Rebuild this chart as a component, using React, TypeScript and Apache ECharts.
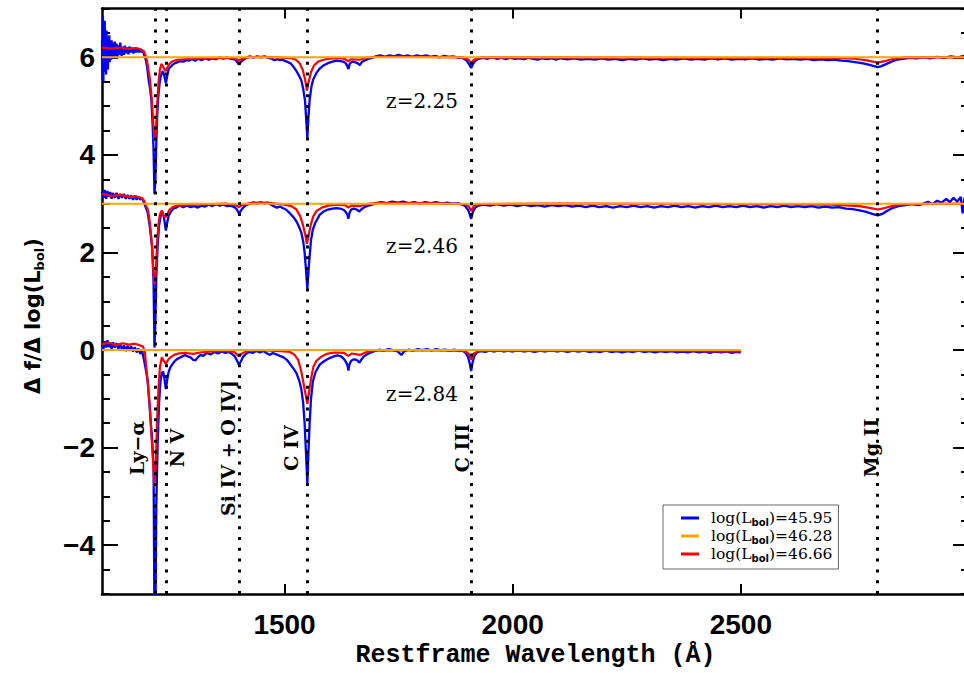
import React, { useEffect, useRef } from "react";
import * as echarts from "echarts";

// ---------------- data ----------------
const GROUP_LABELS = ["z=2.25", "z=2.46", "z=2.84"];
const GROUP_OFFSETS = [6, 3, 0];
const LUMINOSITIES = ["45.95", "46.28", "46.66"];
const SERIES_COLORS = ["#0000ff", "#ffa500", "#ff0000"];
// wavelength span of the reference (flat) curve per redshift group
const REF_RANGE: [number, number][] = [[1100, 3000], [1100, 3000], [1100, 2500]];
const LINE_WAVES = [1216, 1240, 1400, 1549, 1909, 2800];
const LINE_NAMES = ["Ly−α", "N V", "Si IV + O IV]", "C IV", "C III", "Mg II"];
const X_TICKS = [1500, 2000, 2500];
const Y_TICKS = [-4, -2, 0, 2, 4, 6];

// Δf/Δlog(Lbol) for log(Lbol)=45.95 (blue), relative to each group's offset
const BLUE_Z225: [number, number][] = [
  [1100,0.35],[1101,-0.45],[1102,0.85],[1103,-0.5],[1104,0.5],[1105,-0.3],[1106,0.75],[1107,-0.2],[1108,0.45],[1109,-0.35],
  [1110,0.55],[1111,-0.1],[1112,0.4],[1113,-0.25],[1114,0.35],[1115,0.0],[1116,0.45],[1117,-0.1],[1118,0.3],[1120,-0.05],
  [1121,0.35],[1123,0.0],[1124,0.3],[1126,-0.02],[1128,0.32],[1130,0.02],[1132,0.28],[1134,0.0],[1136,0.25],[1138,0.05],
  [1140,0.3],[1143,0.03],[1145,0.22],[1148,0.05],[1150,0.24],[1153,0.08],[1155,0.2],[1158,0.06],[1160,0.22],[1163,0.1],
  [1166,0.2],[1169,0.08],[1172,0.2],[1175,0.1],[1178,0.18],[1181,0.1],[1184,0.17],[1187,0.1],[1190,0.14],[1193,0.02],
  [1196,-0.05],[1199,-0.2],[1202,-0.45],[1205,-0.62],[1208,-0.85],[1211,-1.4],[1213,-1.9],[1215,-2.8],[1217,-2.5],[1219,-1.76],
  [1221,-1.2],[1223,-0.85],[1226,-0.55],[1229,-0.38],[1232,-0.3],[1234,-0.29],[1237,-0.4],[1240,-0.53],[1243,-0.38],[1246,-0.24],
  [1250,-0.2],[1255,-0.15],[1260,-0.12],[1266,-0.1],[1272,-0.08],[1278,-0.09],[1284,-0.06],[1290,-0.07],[1297,-0.04],[1304,-0.07],
  [1311,-0.03],[1318,-0.06],[1326,-0.02],[1334,-0.05],[1342,-0.02],[1350,-0.04],[1358,0.0],[1366,-0.03],[1374,0.0],[1382,-0.03],
  [1390,-0.04],[1395,-0.08],[1400,-0.15],[1404,-0.1],[1410,-0.05],[1417,-0.01],[1424,0.02],[1432,-0.01],[1440,0.02],[1448,0.0],
  [1456,0.02],[1464,-0.01],[1472,-0.03],[1478,-0.06],[1484,-0.04],[1490,-0.06],[1496,-0.05],[1502,-0.08],[1508,-0.1],[1514,-0.13],
  [1520,-0.2],[1526,-0.28],[1532,-0.38],[1537,-0.48],[1541,-0.65],[1545,-0.9],[1548,-1.35],[1550,-1.66],[1552,-1.3],[1555,-0.87],
  [1559,-0.6],[1563,-0.45],[1570,-0.32],[1577,-0.23],[1585,-0.17],[1595,-0.12],[1605,-0.09],[1614,-0.07],[1622,-0.08],[1629,-0.09],
  [1634,-0.12],[1637,-0.17],[1640,-0.24],[1643,-0.13],[1648,-0.09],[1654,-0.1],[1660,-0.12],[1665,-0.16],[1670,-0.09],[1677,-0.06],
  [1685,-0.03],[1693,-0.01],[1700,0.02],[1710,0.04],[1720,0.01],[1730,0.04],[1740,0.02],[1750,0.05],[1760,0.02],[1770,0.04],
  [1780,0.01],[1790,0.04],[1800,0.02],[1810,0.04],[1820,0.01],[1830,0.03],[1840,0.0],[1850,0.03],[1860,0.01],[1870,0.02],
  [1880,-0.01],[1888,0.0],[1895,-0.04],[1900,-0.08],[1905,-0.15],[1909,-0.22],[1913,-0.14],[1918,-0.07],[1925,-0.03],[1935,-0.01],
  [1945,-0.03],[1955,0.0],[1965,-0.03],[1975,-0.01],[1985,-0.04],[1995,-0.01],[2005,-0.03],[2015,-0.02],[2025,-0.04],[2035,-0.01],
  [2045,-0.03],[2055,-0.05],[2065,-0.02],[2075,-0.04],[2085,-0.02],[2095,-0.05],[2105,-0.02],[2120,-0.04],[2135,-0.02],[2150,-0.05],
  [2165,-0.03],[2180,-0.05],[2195,-0.02],[2210,-0.05],[2225,-0.03],[2240,-0.06],[2255,-0.03],[2270,-0.05],[2285,-0.02],[2300,-0.05],
  [2315,-0.03],[2330,-0.06],[2345,-0.03],[2360,-0.05],[2375,-0.02],[2390,-0.05],[2405,-0.03],[2420,-0.05],[2435,-0.02],[2450,-0.04],
  [2465,-0.02],[2480,-0.05],[2495,-0.03],[2510,-0.04],[2525,-0.02],[2540,-0.05],[2555,-0.03],[2570,-0.05],[2585,-0.02],[2600,-0.04],
  [2615,-0.03],[2630,-0.05],[2645,-0.03],[2660,-0.06],[2675,-0.04],[2690,-0.06],[2705,-0.05],[2720,-0.07],[2735,-0.08],[2750,-0.1],
  [2765,-0.12],[2780,-0.15],[2792,-0.18],[2800,-0.2],[2808,-0.18],[2818,-0.14],[2830,-0.09],[2842,-0.05],[2855,-0.03],[2870,-0.01],
  [2885,-0.02],[2900,0.0],[2915,-0.02],[2930,0.01],[2945,-0.01],[2960,0.02],[2975,0.0],[2990,0.03],[3000,0.0],
];

const BLUE_Z246: [number, number][] = [
  [1100,0.25],[1103,0.12],[1106,0.28],[1109,0.1],[1112,0.26],[1115,0.14],[1118,0.24],[1121,0.1],[1124,0.22],[1128,0.12],
  [1132,0.22],[1136,0.1],[1140,0.2],[1144,0.12],[1148,0.2],[1152,0.1],[1156,0.18],[1160,0.1],[1164,0.17],[1168,0.08],
  [1172,0.16],[1176,0.08],[1180,0.14],[1184,0.08],[1188,0.12],[1192,0.02],[1196,-0.08],[1200,-0.18],[1204,-0.42],[1207,-0.65],
  [1210,-0.9],[1213,-1.6],[1215,-2.95],[1217,-2.4],[1219,-1.5],[1222,-0.85],[1225,-0.45],[1229,-0.24],[1233,-0.17],[1236,-0.3],
  [1240,-0.55],[1243,-0.38],[1246,-0.25],[1250,-0.18],[1256,-0.1],[1263,-0.08],[1270,-0.04],[1278,-0.07],[1286,-0.04],[1294,-0.07],
  [1302,-0.05],[1310,-0.08],[1318,-0.04],[1326,-0.06],[1334,-0.02],[1342,-0.05],[1350,-0.01],[1358,-0.04],[1366,-0.02],[1374,-0.05],
  [1382,-0.04],[1390,-0.07],[1395,-0.11],[1400,-0.2],[1404,-0.15],[1409,-0.08],[1416,-0.03],[1424,0.0],[1432,0.03],[1440,0.0],
  [1448,0.03],[1456,0.0],[1464,0.02],[1472,-0.03],[1478,-0.06],[1483,-0.08],[1490,-0.06],[1496,-0.09],[1503,-0.12],[1511,-0.19],
  [1519,-0.27],[1526,-0.36],[1532,-0.48],[1537,-0.6],[1541,-0.78],[1544,-1.0],[1547,-1.35],[1550,-1.75],[1552,-1.45],[1555,-1.08],
  [1558,-0.75],[1562,-0.53],[1568,-0.38],[1577,-0.23],[1586,-0.16],[1595,-0.12],[1605,-0.1],[1614,-0.09],[1622,-0.1],[1630,-0.13],
  [1635,-0.18],[1638,-0.24],[1640,-0.31],[1642,-0.2],[1646,-0.12],[1652,-0.1],[1658,-0.12],[1664,-0.16],[1668,-0.12],[1675,-0.07],
  [1683,-0.04],[1692,-0.02],[1700,0.01],[1712,0.03],[1724,0.01],[1736,0.04],[1748,0.02],[1760,0.04],[1772,0.01],[1784,0.03],
  [1796,0.0],[1808,0.03],[1820,0.01],[1832,0.03],[1844,0.0],[1856,0.02],[1868,0.0],[1880,0.01],[1890,-0.02],[1897,-0.06],
  [1903,-0.14],[1909,-0.31],[1913,-0.16],[1918,-0.08],[1925,-0.04],[1935,-0.02],[1950,-0.04],[1965,-0.01],[1980,-0.04],[1995,-0.02],
  [2010,-0.05],[2025,-0.02],[2040,-0.05],[2055,-0.03],[2070,-0.06],[2085,-0.03],[2100,-0.05],[2115,-0.03],[2130,-0.06],[2145,-0.04],
  [2160,-0.07],[2175,-0.04],[2190,-0.07],[2205,-0.05],[2220,-0.08],[2235,-0.05],[2250,-0.07],[2265,-0.04],[2280,-0.07],[2295,-0.05],
  [2310,-0.08],[2325,-0.05],[2340,-0.07],[2355,-0.04],[2370,-0.07],[2385,-0.05],[2400,-0.08],[2415,-0.05],[2430,-0.07],[2445,-0.04],
  [2460,-0.07],[2475,-0.05],[2490,-0.07],[2505,-0.04],[2520,-0.07],[2535,-0.05],[2550,-0.08],[2565,-0.05],[2580,-0.07],[2595,-0.04],
  [2610,-0.07],[2625,-0.05],[2640,-0.07],[2655,-0.05],[2670,-0.08],[2685,-0.06],[2700,-0.08],[2715,-0.07],[2730,-0.1],[2745,-0.11],
  [2760,-0.14],[2775,-0.17],[2788,-0.21],[2800,-0.24],[2810,-0.21],[2820,-0.15],[2832,-0.09],[2845,-0.05],[2860,-0.03],[2875,-0.01],
  [2890,-0.03],[2900,0.0],[2910,0.04],[2920,-0.01],[2930,0.06],[2940,0.02],[2950,0.1],[2958,0.03],[2966,0.12],[2974,0.04],
  [2982,0.14],[2986,-0.2],[2990,0.12],[2994,0.05],[2997,0.1],[3000,0.02],
];

const BLUE_Z284: [number, number][] = [
  [1100,0.12],[1103,0.02],[1106,0.18],[1109,0.05],[1112,0.2],[1115,0.06],[1118,0.15],[1121,0.02],[1124,0.16],[1128,0.05],
  [1132,0.14],[1136,0.03],[1140,0.12],[1144,0.0],[1148,0.1],[1152,-0.02],[1156,0.09],[1160,0.0],[1164,0.08],[1168,-0.03],
  [1172,0.06],[1176,-0.05],[1180,0.03],[1184,-0.08],[1188,-0.02],[1192,-0.2],[1196,-0.4],[1200,-0.62],[1204,-1.1],[1207,-1.5],
  [1210,-1.85],[1213,-2.4],[1215,-5.6],[1217,-5.6],[1219,-3.2],[1222,-1.9],[1225,-1.1],[1228,-0.65],[1231,-0.47],[1234,-0.44],
  [1237,-0.6],[1240,-0.8],[1243,-0.6],[1246,-0.45],[1250,-0.35],[1255,-0.28],[1260,-0.22],[1265,-0.18],[1270,-0.16],[1276,-0.13],
  [1282,-0.1],[1288,-0.13],[1294,-0.15],[1300,-0.2],[1305,-0.21],[1310,-0.15],[1316,-0.1],[1322,-0.12],[1330,-0.06],[1338,-0.09],
  [1346,-0.04],[1354,-0.07],[1362,-0.03],[1370,-0.06],[1378,-0.04],[1385,-0.08],[1391,-0.13],[1396,-0.22],[1400,-0.3],[1404,-0.24],
  [1409,-0.14],[1415,-0.08],[1422,-0.04],[1430,-0.06],[1438,-0.02],[1446,-0.05],[1454,-0.02],[1462,-0.07],[1468,-0.1],[1474,-0.06],
  [1482,-0.09],[1490,-0.12],[1498,-0.15],[1505,-0.2],[1511,-0.27],[1518,-0.36],[1526,-0.47],[1532,-0.62],[1537,-0.81],[1541,-1.1],
  [1544,-1.5],[1547,-2.1],[1550,-2.75],[1552,-2.2],[1555,-1.5],[1558,-1.0],[1562,-0.65],[1568,-0.45],[1577,-0.3],[1585,-0.24],
  [1592,-0.2],[1600,-0.16],[1608,-0.13],[1616,-0.11],[1624,-0.13],[1630,-0.18],[1635,-0.25],[1638,-0.32],[1640,-0.42],[1642,-0.3],
  [1646,-0.22],[1652,-0.19],[1658,-0.2],[1664,-0.26],[1668,-0.2],[1674,-0.13],[1682,-0.08],[1690,-0.05],[1698,-0.02],[1708,0.01],
  [1718,-0.01],[1728,0.02],[1738,0.0],[1748,-0.03],[1756,-0.1],[1762,-0.03],[1772,0.01],[1782,-0.01],[1792,0.02],[1802,0.0],
  [1812,0.02],[1822,-0.01],[1832,0.02],[1842,0.0],[1852,0.01],[1862,-0.01],[1872,0.01],[1882,-0.02],[1890,-0.01],[1897,-0.06],
  [1902,-0.14],[1906,-0.28],[1909,-0.43],[1912,-0.26],[1916,-0.12],[1922,-0.05],[1930,-0.02],[1940,-0.04],[1950,-0.01],[1960,-0.03],
  [1970,0.0],[1980,-0.03],[1990,-0.01],[2000,-0.03],[2012,0.0],[2024,-0.03],[2036,-0.01],[2048,-0.04],[2060,-0.01],[2072,-0.03],
  [2084,0.0],[2096,-0.03],[2108,-0.01],[2120,-0.04],[2132,-0.01],[2144,-0.03],[2156,-0.01],[2168,-0.04],[2180,-0.02],[2192,-0.04],
  [2204,-0.01],[2216,-0.04],[2228,-0.02],[2240,-0.05],[2252,-0.02],[2264,-0.04],[2276,-0.01],[2288,-0.04],[2300,-0.02],[2312,-0.05],
  [2324,-0.02],[2336,-0.04],[2348,-0.02],[2360,-0.05],[2372,-0.03],[2384,-0.05],[2396,-0.02],[2408,-0.05],[2420,-0.03],[2432,-0.06],
  [2444,-0.03],[2456,-0.05],[2468,-0.03],[2480,-0.06],[2490,-0.04],[2500,-0.05],
];

// Δf/Δlog(Lbol) for log(Lbol)=46.66 (red)
const RED_Z225: [number, number][] = [
  [1100,0.2],[1120,0.18],[1140,0.2],[1160,0.17],[1175,0.19],[1185,0.16],[1192,0.12],[1197,0.0],[1201,-0.2],[1205,-0.45],
  [1209,-0.85],[1212,-1.3],[1215,-1.7],[1218,-1.55],[1221,-0.95],[1224,-0.5],[1227,-0.25],[1230,-0.14],[1233,-0.17],[1236,-0.24],
  [1240,-0.28],[1244,-0.2],[1248,-0.13],[1255,-0.08],[1265,-0.05],[1280,-0.04],[1300,-0.03],[1330,-0.02],[1360,-0.01],[1385,-0.02],
  [1395,-0.04],[1400,-0.07],[1406,-0.03],[1420,0.0],[1450,0.01],[1480,0.0],[1500,-0.01],[1515,-0.02],[1525,-0.05],[1533,-0.12],
  [1540,-0.26],[1545,-0.45],[1549,-0.68],[1553,-0.5],[1558,-0.3],[1565,-0.16],[1575,-0.08],[1590,-0.04],[1610,-0.02],[1630,-0.03],
  [1640,-0.08],[1645,-0.04],[1665,-0.05],[1680,-0.01],[1700,0.01],[1800,0.01],[1890,0.0],[1903,-0.05],[1909,-0.12],[1915,-0.05],
  [1930,0.0],[2100,0.0],[2400,-0.01],[2700,-0.01],[2750,-0.03],[2780,-0.07],[2800,-0.11],[2815,-0.08],[2835,-0.03],[2860,0.0],
  [3000,0.0],
];

const RED_Z246: [number, number][] = [
  [1100,0.2],[1120,0.16],[1140,0.18],[1160,0.14],[1175,0.15],[1185,0.12],[1192,0.07],[1197,-0.05],[1201,-0.14],[1205,-0.4],
  [1209,-0.8],[1212,-1.3],[1215,-1.65],[1218,-1.4],[1221,-0.75],[1224,-0.4],[1227,-0.22],[1231,-0.14],[1235,-0.24],[1239,-0.28],
  [1243,-0.22],[1248,-0.12],[1255,-0.07],[1265,-0.04],[1285,-0.03],[1310,-0.02],[1340,-0.01],[1370,0.0],[1390,-0.02],[1400,-0.07],
  [1407,-0.03],[1420,0.0],[1440,0.02],[1460,0.02],[1480,0.0],[1500,-0.02],[1515,-0.05],[1526,-0.12],[1534,-0.25],[1540,-0.42],
  [1545,-0.62],[1549,-0.82],[1553,-0.65],[1557,-0.45],[1563,-0.26],[1570,-0.15],[1580,-0.09],[1595,-0.04],[1615,-0.02],[1632,-0.03],
  [1640,-0.08],[1646,-0.04],[1665,-0.05],[1680,-0.01],[1700,0.01],[1800,0.01],[1895,-0.01],[1904,-0.06],[1909,-0.15],[1915,-0.05],
  [1925,-0.01],[2100,0.0],[2500,-0.01],[2700,-0.02],[2760,-0.05],[2785,-0.09],[2800,-0.12],[2815,-0.09],[2835,-0.04],[2860,-0.01],
  [3000,0.0],
];

const RED_Z284: [number, number][] = [
  [1100,0.12],[1115,0.15],[1130,0.1],[1145,0.14],[1160,0.11],[1172,0.13],[1182,0.1],[1190,0.07],[1194,-0.05],[1198,-0.45],
  [1202,-0.85],[1205,-1.2],[1209,-1.85],[1212,-2.3],[1215,-2.8],[1218,-2.3],[1221,-1.4],[1224,-0.75],[1227,-0.35],[1231,-0.15],
  [1235,-0.22],[1240,-0.28],[1245,-0.2],[1250,-0.15],[1258,-0.1],[1268,-0.07],[1285,-0.06],[1300,-0.08],[1315,-0.05],[1340,-0.03],
  [1370,-0.02],[1390,-0.04],[1400,-0.13],[1408,-0.06],[1420,-0.02],[1450,0.0],[1480,-0.02],[1500,-0.03],[1512,-0.04],[1522,-0.1],
  [1530,-0.2],[1537,-0.45],[1542,-0.7],[1546,-0.9],[1550,-1.1],[1554,-0.85],[1558,-0.6],[1563,-0.35],[1570,-0.22],[1580,-0.14],
  [1592,-0.08],[1610,-0.05],[1630,-0.06],[1640,-0.12],[1648,-0.07],[1665,-0.1],[1680,-0.04],[1700,-0.01],[1800,0.0],[1895,-0.02],
  [1904,-0.08],[1909,-0.2],[1915,-0.07],[1925,-0.02],[2100,-0.01],[2300,-0.02],[2500,-0.03],
];

const BLUE_GROUPS = [BLUE_Z225, BLUE_Z246, BLUE_Z284];
const RED_GROUPS = [RED_Z225, RED_Z246, RED_Z284];

// ---------------- chart ----------------
const seriesName = (lum: string) => `log(L_bol)=${lum}`;
const SUB_STYLE = {
  fontFamily: "DejaVu Sans",
  fontWeight: "bold",
  fontSize: 10,
  lineHeight: 10,
  verticalAlign: "bottom",
  color: "#000",
};

function buildOption(): any {
  const series: any[] = [];
  GROUP_OFFSETS.forEach((off, g) => {
    series.push({
      type: "line",
      name: seriesName(LUMINOSITIES[0]),
      data: BLUE_GROUPS[g].map(([w, v]) => [w, v + off]),
      color: SERIES_COLORS[0],
      symbol: "none",
      lineStyle: { width: 2.3, color: SERIES_COLORS[0] },
      z: 2,
      clip: true,
      ...(g === 0
        ? {
            markLine: {
              silent: true,
              symbol: ["none", "none"],
              label: { show: false },
              z: 6,
              lineStyle: { color: "#000", width: 3, type: [3, 7.8] },
              emphasis: { disabled: true },
              data: LINE_WAVES.map((w) => ({ xAxis: w })),
            },
          }
        : {}),
    });
    series.push({
      type: "line",
      name: seriesName(LUMINOSITIES[2]),
      data: RED_GROUPS[g].map(([w, v]) => [w, v + off]),
      color: SERIES_COLORS[2],
      symbol: "none",
      lineStyle: { width: 2.2, color: SERIES_COLORS[2] },
      z: 3,
      clip: true,
    });
    series.push({
      type: "line",
      name: seriesName(LUMINOSITIES[1]),
      data: [
        [REF_RANGE[g][0], off],
        [REF_RANGE[g][1], off],
      ],
      color: SERIES_COLORS[1],
      symbol: "none",
      lineStyle: { width: 2, color: SERIES_COLORS[1] },
      z: 4,
    });
  });

  const axisLine = { show: true, onZero: false, lineStyle: { color: "#000", width: 2.5 } };
  const tickStyle = { color: "#000", width: 2 };
  const labelFont = {
    color: "#000",
    fontFamily: "Liberation Sans",
    fontWeight: "bold",
    fontSize: 28,
  };

  const lineLabelX = [137, 177, 228, 291, 462, 871];
  const graphic: any[] = [];
  LINE_NAMES.forEach((t, i) => {
    graphic.push({
      type: "text",
      x: lineLabelX[i],
      y: 448,
      rotation: Math.PI / 2,
      z: 20,
      style: {
        text: t,
        fontFamily: "DejaVu Serif",
        fontWeight: "bold",
        fontSize: 19,
        fill: "#000",
        align: "center",
        verticalAlign: "middle",
      },
    });
  });
  const zLabelY = [101, 246, 394];
  GROUP_LABELS.forEach((t, i) => {
    graphic.push({
      type: "text",
      x: 422,
      y: zLabelY[i],
      z: 20,
      style: {
        text: t,
        fontFamily: "DejaVu Serif",
        fontSize: 20,
        fill: "#000",
        align: "center",
        verticalAlign: "middle",
      },
    });
  });
  graphic.push({
    type: "text",
    x: 33,
    y: 316,
    rotation: Math.PI / 2,
    z: 20,
    style: {
      text: "Δ f/Δ log(L{s|bol})",
      fontFamily: "DejaVu Sans",
      fontWeight: "bold",
      fontSize: 21,
      lineHeight: 26,
      fill: "#000",
      align: "center",
      verticalAlign: "middle",
      rich: {
        s: { ...SUB_STYLE, fontSize: 13, lineHeight: 13 },
      },
    },
  });

  return {
    animation: false,
    backgroundColor: "#fff",
    textStyle: { fontFamily: "DejaVu Sans" },
    grid: {
      left: 102,
      right: -5,
      top: 8.5,
      bottom: 79,
      containLabel: false,
      outerBoundsMode: "none",
    },
    legend: {
      data: LUMINOSITIES.map(seriesName),
      orient: "vertical",
      left: 663,
      top: 505,
      padding: [4, 6, 6, 18],
      itemGap: 0,
      itemWidth: 18,
      itemHeight: 3,
      icon: "rect",
      backgroundColor: "#fff",
      borderColor: "#666",
      borderWidth: 1,
      borderRadius: 0,
      z: 30,
      formatter: (name: string) => name.replace("L_bol", "L{s|bol}"),
      textStyle: {
        fontFamily: "DejaVu Serif",
        fontSize: 15.5,
        lineHeight: 18,
        color: "#000",
        padding: [0, 0, 0, 7],
        rich: { s: SUB_STYLE },
      },
    },
    xAxis: [
      {
        type: "value",
        position: "bottom",
        min: 1100,
        max: 3000,
        axisLine,
        axisTick: { show: true, inside: true, length: 10, customValues: X_TICKS, lineStyle: tickStyle },
        axisLabel: {
          show: true,
          customValues: X_TICKS,
          margin: 16,
          formatter: (v: number) => String(v),
          ...labelFont,
        },
        splitLine: { show: false },
        name: "Restframe Wavelength (Å)",
        nameLocation: "middle",
        nameGap: 46,
        nameTextStyle: {
          fontFamily: "Liberation Mono",
          fontWeight: "bold",
          fontSize: 25,
          color: "#000",
        },
      },
      {
        type: "value",
        position: "top",
        min: 1100,
        max: 3000,
        axisLine,
        axisTick: { show: true, inside: true, length: 10, customValues: X_TICKS, lineStyle: tickStyle },
        axisLabel: { show: false },
        splitLine: { show: false },
      },
    ],
    yAxis: [
      {
        type: "value",
        position: "left",
        min: -5,
        max: 7,
        interval: 0.5,
        axisLine,
        axisTick: { show: true, inside: true, length: 8, lineStyle: tickStyle },
        axisLabel: { show: false },
        splitLine: { show: false },
      },
      {
        type: "value",
        position: "left",
        min: -5,
        max: 7,
        axisLine: { show: false },
        axisTick: { show: true, inside: true, length: 16, customValues: Y_TICKS, lineStyle: tickStyle },
        axisLabel: {
          show: true,
          customValues: Y_TICKS,
          margin: 7,
          formatter: (v: number) => String(v).replace("-", "−"),
          ...labelFont,
        },
        splitLine: { show: false },
      },
      {
        type: "value",
        position: "right",
        min: -5,
        max: 7,
        interval: 0.5,
        axisLine,
        axisTick: { show: true, inside: true, length: 8, lineStyle: tickStyle },
        axisLabel: { show: false },
        splitLine: { show: false },
      },
      {
        type: "value",
        position: "right",
        min: -5,
        max: 7,
        axisLine: { show: false },
        axisTick: { show: true, inside: true, length: 16, customValues: Y_TICKS, lineStyle: tickStyle },
        axisLabel: { show: false },
        splitLine: { show: false },
      },
    ],
    series,
    graphic,
  };
}

export default function App() {
  const ref = useRef<HTMLDivElement>(null);
  useEffect(() => {
    if (!ref.current) return;
    const chart = echarts.init(ref.current, null, { renderer: "svg" });
    chart.setOption(buildOption());
    return () => chart.dispose();
  }, []);
  return (
    <div
      ref={ref}
      style={{ position: "fixed", left: 0, top: 0, width: 964, height: 673, background: "#fff" }}
    />
  );
}
